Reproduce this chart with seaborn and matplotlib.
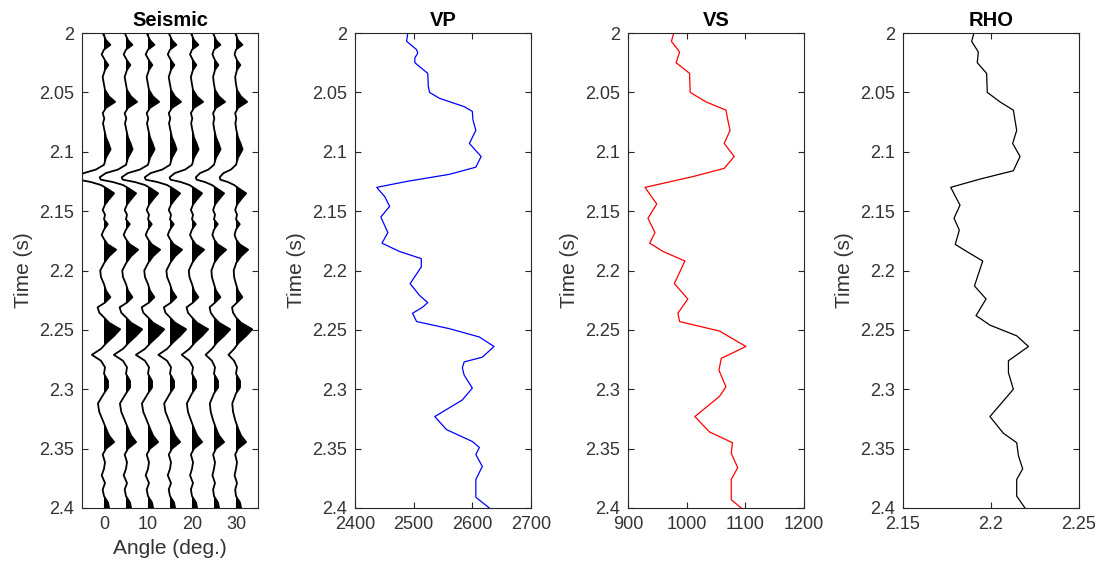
import numpy as np
import pandas as pd
import seaborn as sns
import matplotlib
matplotlib.use("Agg")
import matplotlib.pyplot as plt
from matplotlib.ticker import FuncFormatter

# ---------------- data ----------------
angles = [0, 5, 10, 15, 20, 25, 30]
# relative gain applied to negative (trough) lobes for each angle
neg_gain = [1.0, 1.0, 1.0, 0.96, 0.85, 0.69, 0.62]

seis_time = [2.000, 2.006, 2.010, 2.014, 2.018, 2.023, 2.027, 2.031, 2.037, 2.042,
             2.048, 2.0535, 2.058, 2.063, 2.0675, 2.072, 2.076, 2.0815, 2.088, 2.093,
             2.098, 2.105, 2.111, 2.115, 2.118, 2.1215, 2.1235, 2.1255, 2.128, 2.131,
             2.135, 2.140, 2.1445, 2.149, 2.153, 2.157, 2.161, 2.1655, 2.170, 2.174,
             2.178, 2.1825, 2.188, 2.1935, 2.200, 2.2055, 2.2115, 2.217, 2.2225, 2.227,
             2.231, 2.2355, 2.2395, 2.244, 2.2495, 2.255, 2.2605, 2.266, 2.271, 2.276,
             2.2815, 2.287, 2.293, 2.2985, 2.3035, 2.312, 2.319, 2.326, 2.333, 2.339,
             2.3445, 2.350, 2.355, 2.3615, 2.367, 2.3725, 2.379, 2.3845, 2.390, 2.3955,
             2.400]
seis_amp = [-1.3, 2, 6.3, 0, -2.3, 1, 4.3, 1, -1.3, -0.3,
            1, 5, 11, 2, -1.3, 0.3, -1, 0.3, 2, 4.5,
            6.5, 2, 0, -8, -20, -26, -25, -13, -3, 3,
            10, 5, 1, -1.3, 1, 0, 3.7, 0, -2.3, 0.3,
            3.7, 12, 5, 0.3, -3.7, -3, 0, 2, 6.3, 1,
            -6.3, -4.7, 0, 5, 16, 10, 3, -3, -12, -3,
            1, 0, 4, 4, 0, -6, -4.7, -1.3, 2, 5,
            10, 2, -1.3, 1, 0, -2.3, 1, -1.3, 0, 4,
            5]

vp_time = [2.000, 2.007, 2.014, 2.017, 2.021, 2.025, 2.034, 2.045, 2.050, 2.055,
           2.062, 2.066, 2.073, 2.082, 2.093, 2.104, 2.113, 2.119, 2.125, 2.130,
           2.138, 2.146, 2.155, 2.168, 2.177, 2.184, 2.190, 2.197, 2.211, 2.221,
           2.227, 2.231, 2.236, 2.243, 2.249, 2.256, 2.264, 2.273, 2.277, 2.282,
           2.288, 2.299, 2.309, 2.323, 2.334, 2.344, 2.349, 2.355, 2.365, 2.376,
           2.391, 2.400]
vp = [2490, 2488, 2505, 2507, 2502, 2502, 2524, 2525, 2527, 2544,
      2586, 2600, 2601, 2606, 2595, 2615, 2606, 2561, 2488, 2437,
      2451, 2459, 2444, 2456, 2446, 2476, 2513, 2513, 2494, 2510,
      2524, 2515, 2498, 2505, 2561, 2612, 2637, 2617, 2586, 2583,
      2586, 2600, 2583, 2536, 2556, 2600, 2612, 2606, 2617, 2606,
      2606, 2629]

vs_time = [2.000, 2.007, 2.016, 2.025, 2.034, 2.050, 2.058, 2.065, 2.073, 2.082,
           2.093, 2.104, 2.114, 2.121, 2.130, 2.144, 2.156, 2.168, 2.177, 2.184,
           2.192, 2.211, 2.224, 2.236, 2.243, 2.251, 2.264, 2.274, 2.284, 2.298,
           2.306, 2.323, 2.336, 2.345, 2.354, 2.366, 2.376, 2.393, 2.400]
vs = [978, 974, 988, 982, 1005, 1006, 1033, 1067, 1070, 1074,
      1064, 1081, 1064, 1010, 929, 949, 934, 946, 937, 960,
      997, 979, 1002, 985, 988, 1056, 1101, 1059, 1055, 1067,
      1056, 1014, 1039, 1078, 1076, 1087, 1076, 1076, 1093]

rho_time = [2.000, 2.007, 2.016, 2.025, 2.034, 2.050, 2.058, 2.065, 2.082, 2.093,
            2.104, 2.116, 2.123, 2.130, 2.145, 2.156, 2.166, 2.178, 2.184, 2.192,
            2.213, 2.224, 2.238, 2.246, 2.255, 2.264, 2.276, 2.286, 2.300, 2.323,
            2.337, 2.345, 2.356, 2.367, 2.376, 2.390, 2.400]
rho = [2.1903, 2.1890, 2.1928, 2.1922, 2.1975, 2.1979, 2.2051, 2.2127, 2.2146, 2.2123,
       2.2165, 2.2127, 2.1938, 2.1771, 2.1824, 2.1790, 2.1820, 2.1797, 2.1862, 2.1953,
       2.1906, 2.1972, 2.1915, 2.1994, 2.2146, 2.2213, 2.2099, 2.2099, 2.2127, 2.1994,
       2.2070, 2.2146, 2.2156, 2.2180, 2.2146, 2.2146, 2.2193]

time_ticks = [2.0, 2.05, 2.1, 2.15, 2.2, 2.25, 2.3, 2.35, 2.4]

# ---------------- style ----------------
sns.set_theme(style="white")
plt.rcParams['font.family'] = ['Liberation Sans', 'DejaVu Sans']
dark = '#262626'
plt.rcParams.update({
    'axes.edgecolor': dark, 'axes.linewidth': 0.8,
    'xtick.color': dark, 'ytick.color': dark,
    'xtick.labelcolor': '#333333', 'ytick.labelcolor': '#333333',
    'axes.labelcolor': '#333333', 'text.color': dark,
})

fig = plt.figure(figsize=(11.04, 5.74), dpi=100)
W, H = 1104.0, 574.0
lefts = [82, 355, 628, 903]
axes = [fig.add_axes([l / W, 66 / H, 176 / W, 475 / H]) for l in lefts]

fmt = FuncFormatter(lambda v, p: f"{v:g}")


def style_axis(ax, title):
    ax.set_ylim(2.4, 2.0)
    ax.set_yticks(time_ticks)
    ax.yaxis.set_major_formatter(fmt)
    ax.xaxis.set_major_formatter(fmt)
    ax.tick_params(direction='in', length=4, width=0.8, labelsize=13,
                   top=True, right=True, bottom=True, left=True, pad=6)
    ax.set_ylabel('Time (s)', fontsize=15, labelpad=4)
    ax.set_title(title, fontsize=14.5, fontweight='bold', pad=5, color='black')
    for s in ax.spines.values():
        s.set_visible(True)
        s.set_color(dark)


# ---- Seismic wiggle panel ----
ax = axes[0]
t_arr = np.array(seis_time)
a_arr = np.array(seis_amp)
defl = 1 / 4.35  # amplitude unit -> degrees of horizontal deflection
rows = []
for ang, g in zip(angles, neg_gain):
    amp = np.where(a_arr < 0, a_arr * g, a_arr) * defl
    x = ang + amp
    ax.fill_betweenx(t_arr, ang, x, where=amp > 0, interpolate=True,
                     color='black', linewidth=0)
    rows.append(pd.DataFrame({'x': x, 't': t_arr, 'angle': ang}))
seis_df = pd.concat(rows, ignore_index=True)
sns.lineplot(data=seis_df, x='x', y='t', units='angle', estimator=None,
             sort=False, orient='y', color='black', linewidth=1.3, ax=ax)
ax.set_xlim(-5, 35)
ax.set_xticks([0, 10, 20, 30])
style_axis(ax, 'Seismic')
ax.set_xlabel('Angle (deg.)', fontsize=15, labelpad=4)

# ---- Logs ----
logs = [
    (axes[1], vp_time, vp, 'blue', 'VP', (2400, 2700), [2400, 2500, 2600, 2700]),
    (axes[2], vs_time, vs, 'red', 'VS', (900, 1200), [900, 1000, 1100, 1200]),
    (axes[3], rho_time, rho, 'black', 'RHO', (2.15, 2.25), [2.15, 2.2, 2.25]),
]
for ax, tt, vv, col, title, xl, xt in logs:
    df = pd.DataFrame({'v': vv, 't': tt})
    sns.lineplot(data=df, x='v', y='t', sort=False, orient='y', color=col,
                 linewidth=0.9, ax=ax)
    ax.set_xlim(*xl)
    ax.set_xticks(xt)
    style_axis(ax, title)
    ax.set_xlabel('')

fig.savefig('out.png', dpi=100)
